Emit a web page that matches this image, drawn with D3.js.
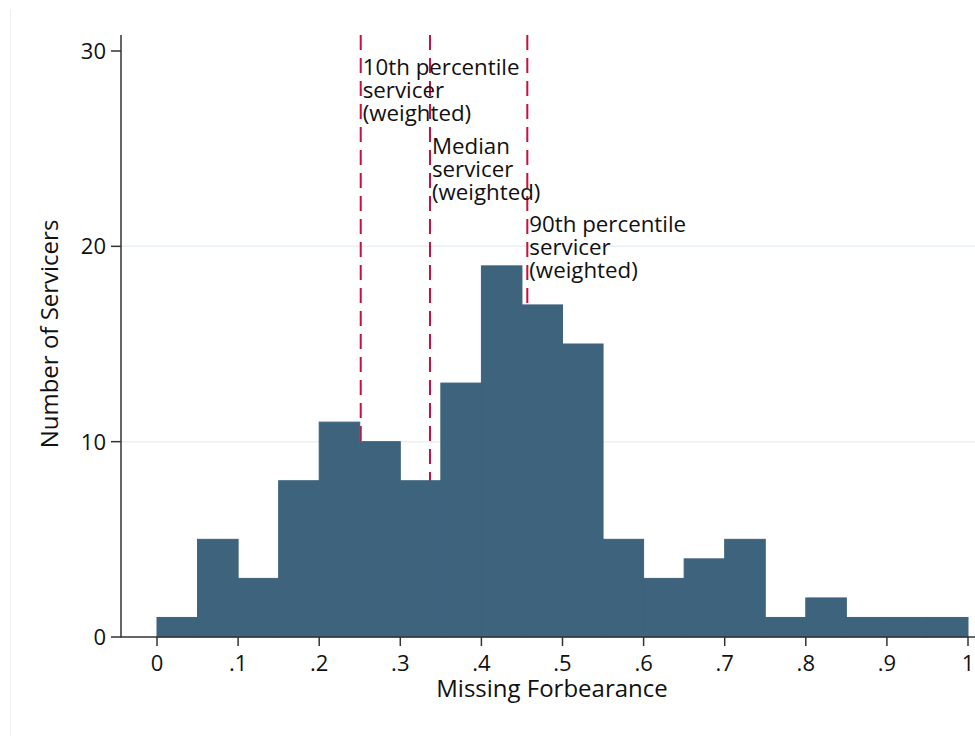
<!DOCTYPE html>
<html>
<head>
<meta charset="utf-8">
<script src="https://cdn.jsdelivr.net/npm/d3@7"></script>
<style>
  html, body { margin: 0; padding: 0; background: #fff; }
  svg { display: block; }
  text { font-family: "Open Sans", "DejaVu Sans", sans-serif; fill: #111; }
</style>
</head>
<body>
<svg id="chart" width="975" height="736"></svg>
<script>
// Histogram bins (width 0.05) and servicer counts
const binStarts = [0, 0.05, 0.10, 0.15, 0.20, 0.25, 0.30, 0.35, 0.40, 0.45,
                   0.50, 0.55, 0.60, 0.65, 0.70, 0.75, 0.80, 0.85, 0.90, 0.95];
const binWidth = 0.05;
const counts = [1, 5, 3, 8, 11, 10, 8, 13, 19, 17,
                15, 5, 3, 4, 5, 1, 2, 1, 1, 1];

// Weighted percentile markers
const markerValues = [0.2512, 0.3366, 0.4566];
const markerLabels = [
  ["10th percentile", "servicer", "(weighted)"],
  ["Median", "servicer", "(weighted)"],
  ["90th percentile", "servicer", "(weighted)"]
];
const markerLabelY = [29, 25, 21];

const xTicks = [0, 0.1, 0.2, 0.3, 0.4, 0.5, 0.6, 0.7, 0.8, 0.9, 1];
const xTickLabels = ["0", ".1", ".2", ".3", ".4", ".5", ".6", ".7", ".8", ".9", "1"];
const yTicks = [0, 10, 20, 30];
const yGrid = [10, 20];

const svg = d3.select("#chart");
const W = 975, H = 736;

const x = d3.scaleLinear().domain([0, 1]).range([157, 968]);
const y = d3.scaleLinear().domain([0, 30]).range([637, 51]);
const axisX = 121, plotTop = 35, plotRight = 975;

// faint outer frame edge
svg.append("line")
  .attr("x1", 10.5).attr("x2", 10.5).attr("y1", 9).attr("y2", H)
  .attr("stroke", "#eeeeee").attr("stroke-width", 1);

// gridlines
svg.append("g").selectAll("line").data(yGrid).join("line")
  .attr("x1", axisX).attr("x2", plotRight)
  .attr("y1", d => y(d)).attr("y2", d => y(d))
  .attr("stroke", "#eaf0f3").attr("stroke-width", 1.5);

// percentile reference lines (drawn beneath the bars)
svg.append("g").selectAll("line").data(markerValues).join("line")
  .attr("x1", d => x(d)).attr("x2", d => x(d))
  .attr("y1", plotTop).attr("y2", y(0))
  .attr("stroke", "#c8103e").attr("stroke-width", 2)
  .attr("stroke-dasharray", "15,8");

// bars
svg.append("g").selectAll("rect").data(counts).join("rect")
  .attr("x", (d, i) => x(binStarts[i]))
  .attr("width", (d, i) => x(binStarts[i] + binWidth) - x(binStarts[i]))
  .attr("y", d => y(d))
  .attr("height", d => y(0) - y(d))
  .attr("fill", "#3e637d")
  .attr("stroke", "#3e637d").attr("stroke-width", 1);

// marker annotations
const ann = svg.append("g");
markerValues.forEach((v, i) => {
  const t = ann.append("text")
    .attr("x", x(v) + 2)
    .attr("y", y(markerLabelY[i]))
    .attr("font-size", 22.3);
  markerLabels[i].forEach((line, j) => {
    t.append("tspan")
      .attr("x", x(v) + 2)
      .attr("dy", j === 0 ? "0.22em" : 23)
      .text(line);
  });
});

// y axis
const yAxis = svg.append("g");
yAxis.append("line")
  .attr("x1", axisX).attr("x2", axisX).attr("y1", plotTop).attr("y2", y(0) + 0.5)
  .attr("stroke", "#333").attr("stroke-width", 1.5);
yAxis.selectAll("line.tick").data(yTicks).join("line").attr("class", "tick")
  .attr("x1", axisX - 10).attr("x2", axisX)
  .attr("y1", d => y(d)).attr("y2", d => y(d))
  .attr("stroke", "#333").attr("stroke-width", 1.5);
yAxis.selectAll("text").data(yTicks).join("text")
  .attr("x", axisX - 15).attr("y", d => y(d))
  .attr("dy", "0.36em").attr("text-anchor", "end")
  .attr("font-size", 22)
  .text(d => d);

// x axis
const xAxis = svg.append("g");
xAxis.append("line")
  .attr("x1", axisX).attr("x2", plotRight).attr("y1", y(0)).attr("y2", y(0))
  .attr("stroke", "#333").attr("stroke-width", 1.5);
xAxis.selectAll("line.tick").data(xTicks).join("line").attr("class", "tick")
  .attr("x1", d => x(d)).attr("x2", d => x(d))
  .attr("y1", y(0)).attr("y2", y(0) + 9)
  .attr("stroke", "#333").attr("stroke-width", 1.5);
xAxis.selectAll("text").data(xTicks).join("text")
  .attr("x", d => x(d)).attr("y", y(0) + 34)
  .attr("text-anchor", "middle")
  .attr("font-size", 22)
  .text((d, i) => xTickLabels[i]);

// axis titles
svg.append("text")
  .attr("x", 552).attr("y", 697)
  .attr("text-anchor", "middle").attr("font-size", 24)
  .text("Missing Forbearance");
svg.append("text")
  .attr("transform", "translate(58, 334) rotate(-90)")
  .attr("text-anchor", "middle").attr("font-size", 24)
  .text("Number of Servicers");
</script>
</body>
</html>
